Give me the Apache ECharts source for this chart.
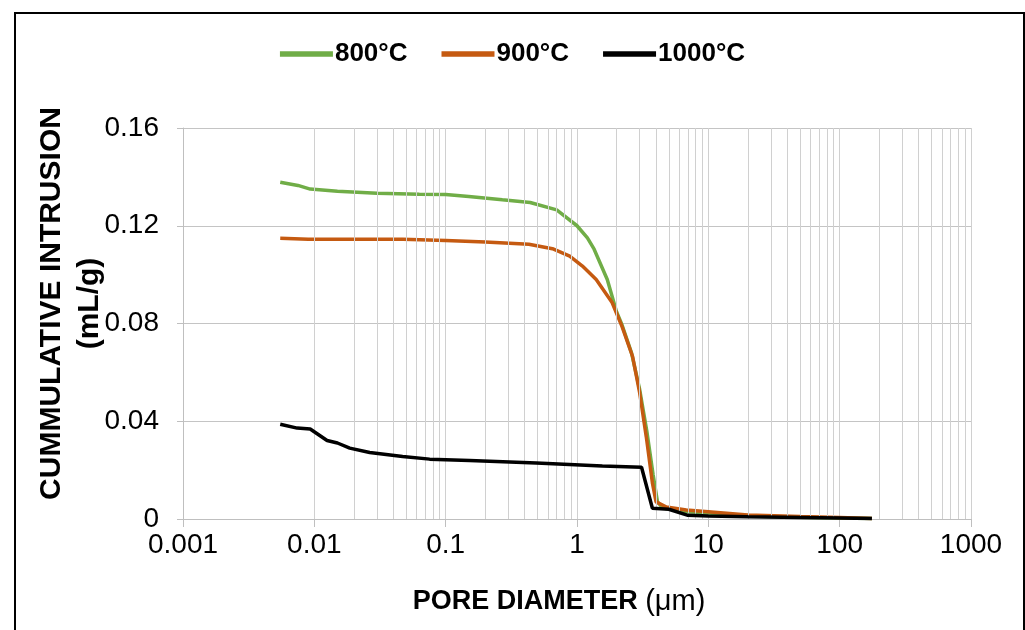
<!DOCTYPE html>
<html>
<head>
<meta charset="utf-8">
<script src="https://cdn.jsdelivr.net/npm/echarts@6/dist/echarts.min.js"></script>
<style>
  html, body { margin: 0; padding: 0; background: #fff; }
  #chart { width: 1025px; height: 630px; }
</style>
</head>
<body>
<div id="chart"></div>
<script>
// pore diameter (µm) / cumulative intrusion (mL/g)
const diam800 = [0.0055, 0.0075, 0.0093, 0.015, 0.03, 0.063, 0.1, 0.15, 0.27, 0.44, 0.7, 1.0, 1.2, 1.35, 1.7, 2.0, 2.2, 2.6, 3.0, 3.4, 3.8, 4.1, 4.5, 7, 10, 20, 50, 100, 176];
const cum800 = [0.1378, 0.1365, 0.135, 0.1341, 0.1333, 0.1329, 0.1328, 0.132, 0.1306, 0.1295, 0.1265, 0.12, 0.115, 0.1104, 0.098, 0.0848, 0.0795, 0.068, 0.053, 0.036, 0.018, 0.007, 0.0045, 0.003, 0.0025, 0.0012, 0.0007, 0.0004, 0.0002];

const diam900 = [0.0055, 0.009, 0.047, 0.1, 0.2, 0.43, 0.65, 0.88, 1.1, 1.4, 1.85, 2.2, 2.65, 3.0, 3.37, 3.75, 4.0, 4.8, 6.8, 10, 20, 50, 100, 176];
const cum900 = [0.1149, 0.1145, 0.1145, 0.114, 0.1134, 0.1124, 0.1106, 0.1076, 0.1035, 0.098, 0.0886, 0.0788, 0.0665, 0.0517, 0.0336, 0.0148, 0.007, 0.0049, 0.0037, 0.003, 0.0016, 0.001, 0.0006, 0.0002];

const diam1000 = [0.0055, 0.0074, 0.0093, 0.0125, 0.015, 0.0186, 0.0264, 0.047, 0.0755, 0.152, 0.49, 1.56, 3.1, 3.75, 5.0, 7, 10, 20, 50, 100, 176];
const cum1000 = [0.0388, 0.0372, 0.0368, 0.0321, 0.0311, 0.029, 0.0272, 0.0256, 0.0245, 0.0239, 0.0229, 0.0217, 0.0212, 0.0044, 0.004, 0.0015, 0.0012, 0.0009, 0.0006, 0.0004, 0.0002];

const seriesNames = ["800°C", "900°C", "1000°C"];
const seriesColors = ["#70ad47", "#c55a11", "#000000"];

// minor gridlines: 2..9 within each decade
const decades = [0.001, 0.01, 0.1, 1, 10, 100];
const minorSteps = [2, 3, 4, 5, 6, 7, 8, 9];

const FONT = "Liberation Sans";

function zip(xs, ys) {
    return xs.map((x, i) => [x, ys[i]]);
}

const minorLines = [];
decades.forEach((d) => minorSteps.forEach((m) => minorLines.push({ xAxis: +(d * m).toPrecision(3) })));

const chart = echarts.init(document.getElementById("chart"), null, { renderer: "canvas" });

const lineSeries = [zip(diam800, cum800), zip(diam900, cum900), zip(diam1000, cum1000)].map((data, i) => ({
    name: seriesNames[i],
    type: "line",
    data: data,
    showSymbol: false,
    symbol: "none",
    smooth: false,
    z: 3 + i,
    lineStyle: { color: seriesColors[i], width: 3.5 },
    itemStyle: { color: seriesColors[i] },
    animation: false,
}));

chart.setOption({
    backgroundColor: "#fff",
    animation: false,
    graphic: [
        {
            type: "rect",
            shape: { x: 15, y: 13, width: 1009, height: 650 },
            style: { fill: "none", stroke: "#000", lineWidth: 2 },
            silent: true,
            z: 100,
        },
    ],
    legend: {
        data: seriesNames,
        top: 36,
        left: "center",
        itemWidth: 53,
        itemHeight: 14,
        itemGap: 34,
        icon: "path://M0,0 L10,0 L10,1 L0,1 Z",
        textStyle: { fontFamily: FONT, fontSize: 26, fontWeight: "bold", color: "#000", padding: [0, 0, 0, -3] },
    },
    grid: { left: 183, right: 54, top: 128, bottom: 111, containLabel: false },
    xAxis: {
        type: "log",
        logBase: 10,
        min: 0.001,
        max: 1000,
        splitNumber: 6,
        name: "{b|PORE DIAMETER }{r|(μm)}",
        nameLocation: "middle",
        nameGap: 68,
        nameMoveOverlap: false,
        nameTextStyle: {
            padding: [0, 36, 0, 0],
            rich: {
                b: { fontFamily: FONT, fontSize: 27, fontWeight: "bold", color: "#000" },
                r: { fontFamily: FONT, fontSize: 29, fontWeight: "normal", color: "#000" },
            },
        },
        axisLine: { show: true, lineStyle: { color: "#bfbfbf", width: 1 } },
        axisTick: { show: true, length: 8, lineStyle: { color: "#bfbfbf" } },
        axisLabel: {
            margin: 12,
            fontFamily: FONT,
            fontSize: 28,
            color: "#000",
            formatter: (v) => String(parseFloat(Number(v).toPrecision(3))),
        },
        splitLine: { show: true, lineStyle: { color: "#d0d0d0", width: 1 } },
    },
    yAxis: {
        type: "value",
        min: 0,
        max: 0.16,
        interval: 0.04,
        name: "CUMMULATIVE INTRUSION\n(mL/g)",
        nameLocation: "middle",
        nameRotate: 90,
        nameGap: 74,
        nameMoveOverlap: false,
        nameTextStyle: {
            fontFamily: FONT,
            fontSize: 30,
            fontWeight: "bold",
            color: "#000",
            lineHeight: 38,
            padding: [0, 0, 0, 40],
        },
        axisLine: { show: true, lineStyle: { color: "#bfbfbf", width: 1 } },
        axisTick: { show: true, length: 6, lineStyle: { color: "#bfbfbf" } },
        axisLabel: { margin: 24, fontFamily: FONT, fontSize: 28, color: "#000" },
        splitLine: { show: true, lineStyle: { color: "#c4c4c4", width: 1 } },
    },
    series: [
        {
            name: "minor",
            type: "line",
            data: [],
            z: 1,
            silent: true,
            markLine: {
                silent: true,
                symbol: "none",
                animation: false,
                label: { show: false },
                lineStyle: { color: "#d0d0d0", type: "solid", width: 1 },
                data: minorLines,
            },
        },
        ...lineSeries,
    ],
});
</script>
</body>
</html>
